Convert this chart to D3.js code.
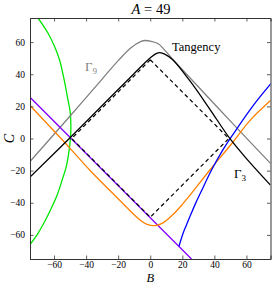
<!DOCTYPE html>
<html><head><meta charset="utf-8">
<script src="https://cdn.jsdelivr.net/npm/d3@7"></script>
<style>
html,body{margin:0;padding:0;background:#fff;}
svg{display:block;}
text{font-family:"Liberation Serif","DejaVu Serif",serif;}
</style></head>
<body>
<script>
// ---------- data ----------
const title = "A = 49";
const xTicks = [-60,-40,-20,0,20,40,60];
const yTicks = [-60,-40,-20,0,20,40,60];
const domainB = [-75,75];
const domainC = [-75,75];

const dashedSquare = [[0,49],[49,0],[0,-49],[-49,0],[0,49]];
const tangency = [[-75,-24],[-50,0.5],[-25,25.5],[-10,40.5],[-3,47.5],[1,51],[4,53],[6,53.4],[9,52.5],[14,49],[25,35.5],[37,18.5],[49.5,0.2],[60,-12.5],[75,-29]];
const gamma9 = [[-75,-14.3],[-50,14],[-30,37],[-20,48.5],[-12,56.5],[-6,60.3],[-3,61],[0,60.6],[5,59],[9,55],[13,50.5],[18,45],[25,37.5],[50,10.8],[75,-15.5]];
const orange = [[-75,20.5],[-50.3,-5.8],[-37.8,-19.6],[-20,-37.5],[-6.6,-50.5],[-2,-53.4],[3,-54.2],[8,-52.5],[14,-47.5],[20,-41],[25,-35],[37.2,-19.6],[51.4,-2.5],[62,11],[75,23.6]];
const purple = [[-75,25.7],[25.7,-75]];
const blue = [[18,-67],[19,-63.5],[20.5,-59],[22.5,-54],[25,-48],[28,-41],[32,-32.5],[37.5,-21],[45,-7.5],[55,7.5],[65,21.5],[75.5,34.4]];
const green = [[-70,75],[-64,66],[-60,58],[-56.6,49],[-54,38],[-51.5,25],[-50,17],[-49.5,8],[-49.8,0],[-50.7,-8],[-52.5,-18],[-55,-26],[-58,-35],[-62,-44],[-66,-52],[-70,-59],[-75,-66]];

// ---------- layout ----------
const W = 274, H = 284;
const m = {left:30, right:3.5, top:18, bottom:25};
const svg = d3.select("body").append("svg").attr("width",W).attr("height",H);
const x = d3.scaleLinear().domain(domainB).range([m.left, W-m.right]);
const y = d3.scaleLinear().domain(domainC).range([H-m.bottom, m.top]);

const defs = svg.append("defs");
defs.append("clipPath").attr("id","clip").append("rect")
  .attr("x",x(domainB[0])).attr("y",y(domainC[1]))
  .attr("width",x(domainB[1])-x(domainB[0])).attr("height",y(domainC[0])-y(domainC[1]));

const g = svg.append("g").attr("clip-path","url(#clip)");
const line = d3.line().x(d=>x(d[0])).y(d=>y(d[1]));
const smooth = d3.line().x(d=>x(d[0])).y(d=>y(d[1])).curve(d3.curveCatmullRom.alpha(0.5));
const mono = d3.line().x(d=>x(d[0])).y(d=>y(d[1])).curve(d3.curveMonotoneX);

g.append("path").datum(green).attr("d",smooth).attr("fill","none").attr("stroke","#00e600").attr("stroke-width",1.3);
g.append("path").datum(gamma9).attr("d",smooth).attr("fill","none").attr("stroke","#808080").attr("stroke-width",1.3);
g.append("path").datum(purple).attr("d",line).attr("fill","none").attr("stroke","#8000ff").attr("stroke-width",1.3);
g.append("path").datum(orange).attr("d",smooth).attr("fill","none").attr("stroke","#ff8000").attr("stroke-width",1.3);
g.append("path").datum(blue).attr("d",mono).attr("fill","none").attr("stroke","#0000ff").attr("stroke-width",1.3);
g.append("path").datum(dashedSquare).attr("d",line).attr("fill","none").attr("stroke","#000").attr("stroke-width",1.2).attr("stroke-dasharray","4,3");
g.append("path").datum(tangency).attr("d",smooth).attr("fill","none").attr("stroke","#000").attr("stroke-width",1.3);

// ---------- axes (box, inward ticks) ----------
const axCol = "#333";
const fmt = d => d<0 ? "\u2212"+Math.abs(d) : ""+d;
const bottomAx = svg.append("g").attr("transform",`translate(0,${y(domainC[0])})`)
  .call(d3.axisBottom(x).tickValues(xTicks).tickSize(-3.5).tickPadding(2.5).tickFormat(fmt));
const topAx = svg.append("g").attr("transform",`translate(0,${y(domainC[1])})`)
  .call(d3.axisTop(x).tickValues(xTicks).tickSize(-3.5).tickFormat(""));
const leftAx = svg.append("g").attr("transform",`translate(${x(domainB[0])},0)`)
  .call(d3.axisLeft(y).tickValues(yTicks).tickSize(-3.5).tickPadding(5).tickFormat(fmt));
const rightAx = svg.append("g").attr("transform",`translate(${x(domainB[1])},0)`)
  .call(d3.axisRight(y).tickValues(yTicks).tickSize(-3.5).tickFormat(""));
[bottomAx,topAx,leftAx,rightAx].forEach(a=>{
  a.select(".domain").attr("stroke",axCol).attr("stroke-width",1);
  a.selectAll(".tick line").attr("stroke",axCol).attr("stroke-width",0.8);
  a.selectAll("text").attr("font-family","Liberation Serif, DejaVu Serif, serif").attr("font-size",9.5).attr("fill","#000");
});

// ---------- labels ----------
const t = svg.append("text").attr("x",151).attr("y",13.5).attr("text-anchor","middle").attr("font-size",14.5);
t.append("tspan").attr("font-style","italic").text("A");
t.append("tspan").text(" = 49");

svg.append("text").attr("x",x(0)).attr("y",282).attr("text-anchor","middle")
  .attr("font-size",12.5).attr("font-style","italic").text("B");
svg.append("text").attr("transform",`translate(14,${y(0)}) rotate(-90)`).attr("text-anchor","middle")
  .attr("font-size",14).attr("font-style","italic").text("C");

svg.append("text").attr("x",172).attr("y",51).attr("font-size",12.5).attr("fill","#000").text("Tangency");

const g9 = svg.append("text").attr("x",85).attr("y",71).attr("font-size",13).attr("fill","#808080");
g9.append("tspan").text("\u0393");
g9.append("tspan").attr("font-size",9).attr("dy",3).text("9");

const g3 = svg.append("text").attr("x",234).attr("y",178).attr("font-size",13).attr("fill","#000");
g3.append("tspan").text("\u0393");
g3.append("tspan").attr("font-size",9).attr("dy",3).text("3");
</script>
</body></html>
